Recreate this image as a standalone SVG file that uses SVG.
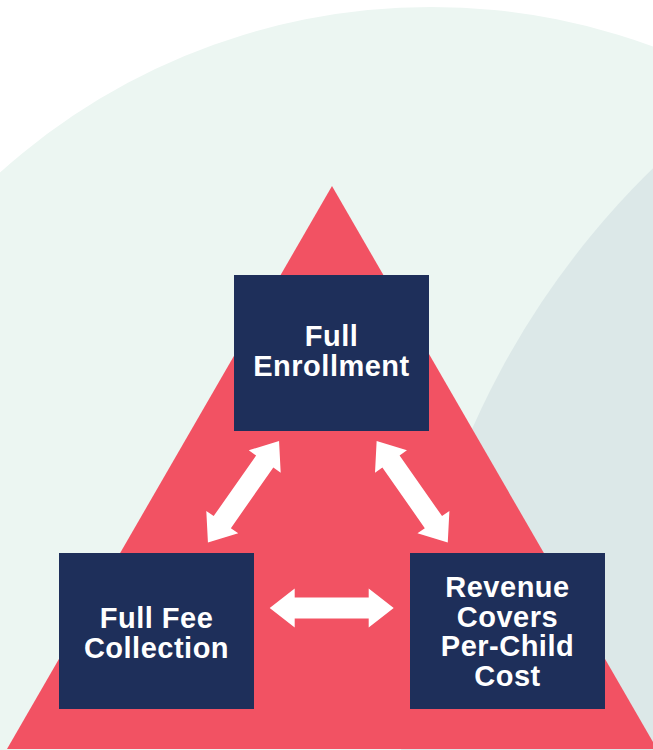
<svg xmlns="http://www.w3.org/2000/svg" width="653" height="750" viewBox="0 0 653 750">
  <defs>
    <style>
      .box { fill: #1E2F5A; }
      .lbl { fill: #FFFFFF; font-family: "Liberation Sans", Arial, Helvetica, sans-serif; font-weight: bold; font-size: 29px; letter-spacing: 0.5px; text-anchor: middle; }
      .arrow { fill: #FFFFFF; }
    </style>
    <polygon id="dbl" points="-62,0 -37,-19.5 -37,-10.5 37,-10.5 37,-19.5 62,0 37,19.5 37,10.5 -37,10.5 -37,19.5"/>
  </defs>
  <rect width="653" height="750" fill="#FFFFFF"/>
  <g id="background">
    <circle cx="431" cy="651" r="644" fill="#ECF6F2"/>
    <circle cx="1236" cy="766" r="835" fill="#DCE8E8"/>
    <polygon points="332,186 7,749 657,749" fill="#F25263"/>
  </g>
  <g id="connectors">
    <use href="#dbl" class="arrow" transform="translate(243.5,491.8) rotate(-55)"/>
    <use href="#dbl" class="arrow" transform="translate(412.2,491.8) rotate(55)"/>
    <use href="#dbl" class="arrow" transform="translate(331.7,608)"/>
  </g>
  <g id="node-enrollment">
    <rect class="box" x="234" y="275" width="195" height="156"/>
    <text class="lbl" x="331.5" y="346">Full<tspan x="331.5" dy="30">Enrollment</tspan></text>
  </g>
  <g id="node-fee">
    <rect class="box" x="59" y="553" width="195" height="156"/>
    <text class="lbl" x="156.5" y="628">Full Fee<tspan x="156.5" dy="29.5">Collection</tspan></text>
  </g>
  <g id="node-revenue">
    <rect class="box" x="410" y="553" width="195" height="156"/>
    <text class="lbl" x="507.5" y="597">Revenue<tspan x="507.5" dy="29.5">Covers</tspan><tspan x="507.5" dy="29.5">Per-Child</tspan><tspan x="507.5" dy="29.5">Cost</tspan></text>
  </g>
</svg>
